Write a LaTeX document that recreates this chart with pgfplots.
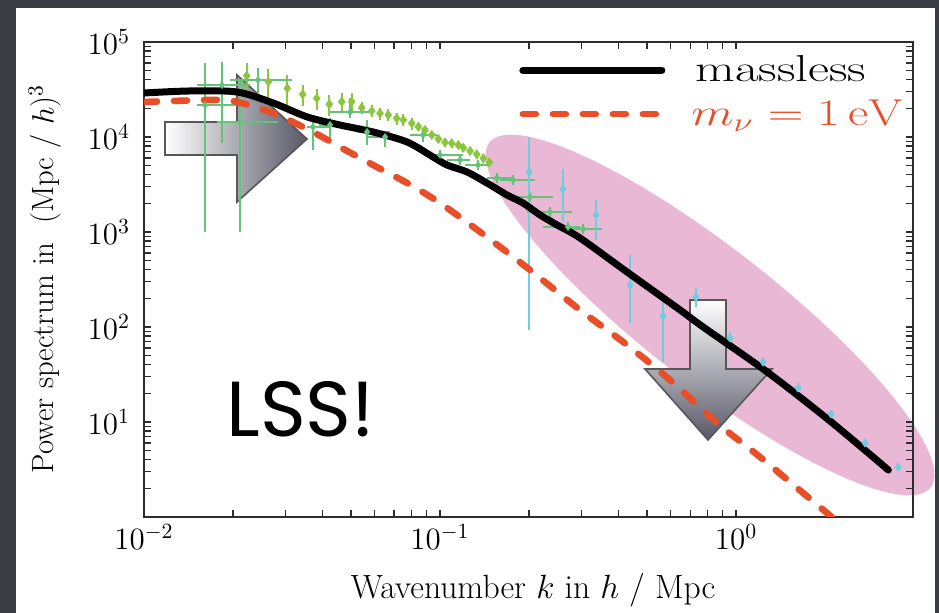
\RequirePackage{fix-cm}
\documentclass[border=0pt]{standalone}
\usepackage{fontspec}
\usepackage{graphicx}
\usepackage{pgfplots}
\usepackage{pgfplotstable}
\pgfplotsset{compat=1.18}
\newfontfamily\poppins{Poppins}

\definecolor{bg}{RGB}{58,60,68}
\definecolor{massred}{RGB}{232,78,40}
\definecolor{limeg}{RGB}{140,198,63}
\definecolor{mgreen}{RGB}{100,195,120}
\definecolor{cyanpt}{RGB}{110,205,222}
\definecolor{pinkell}{RGB}{233,184,213}
\definecolor{arrowdark}{RGB}{88,88,104}
\definecolor{axisgray}{RGB}{45,45,45}

\pgfplotstableread{
k P
0.01 29040
0.0143 30500
0.0206 29770
0.0273 22800
0.0356 16250
0.0459 13370
0.0594 11290
0.0774 8860
0.0947 6160
0.1056 5070
0.1234 4280
0.144 3280
0.1684 2450
0.1906 2020
0.2177 1510
0.2485 1185
0.297 865
0.4285 379
0.647 151
0.774 100
1.274 33.6
2.08 10.2
3.27 3.12
}\massless

\pgfplotstableread{
k P
0.01 23350
0.0163 24500
0.02 23900
0.0273 17900
0.0372 11290
0.0459 7850
0.0594 5070
0.0774 3280
0.1 2020
0.144 886
0.2014 398
0.297 151
0.4285 64.7
0.598 27.7
0.862 9.76
1.205 4.28
2.12 0.98
}\massive

\pgfplotstableread{
k P e
0.02223 44190 16440
0.02630 38210 14210
0.03048 32550 12110
0.03436 28150 6900
0.03833 25550 6260
0.04227 22090 5410
0.04655 23530 5760
0.05030 23530 5760
0.05438 20340 2970
0.05878 18780 2740
0.06270 17770 2590
0.06686 17050 2490
0.07139 15730 2300
0.07516 15100 2200
0.08023 13940 2040
0.08447 12840 1250
0.08899 11850 1155
0.09375 10500 1024
0.09869 9526 929
0.10397 8795 858
0.10952 8585 837
0.11529 8240 803
0.11986 7717 752
0.12628 7122 694
0.13305 6575 641
0.14005 5968 582
0.14675 5416 528
}\lime

\pgfplotstableread{
k klo khi P Plo Phi
0.01607 0.01510 0.02062 21720 1000 60090
0.01834 0.01510 0.02281 35270 8648 61570
0.02110 0.01764 0.02836 14380 1000 39810
0.02427 0.01952 0.03162 39810 27680 53240
0.03724 0.03554 0.04250 12750 7300 14380
0.04250 0.03903 0.04595 13380 8860 15850
0.04965 0.04250 0.05801 18340 15850 25730
0.05667 0.05244 0.06779 11290 8240 15100
0.06521 0.05667 0.07325 10000 7848 11290
0.08763 0.07918 0.09769 10500 8860 12430
0.10000 0.09252 0.11959 6466 5727 7300
0.11684 0.10560 0.12628 5727 5073 6466
0.13440 0.12147 0.14751 5073 4494 5727
0.15580 0.14410 0.17646 3702 3280 4179
0.17646 0.15948 0.20941 3527 3124 3981
0.20140 0.18203 0.24088 2336 2069 2637
0.23530 0.19673 0.27922 1624 1438 1834
0.27063 0.22284 0.29717 1129 1000 1274
0.30417 0.26030 0.35263 1075 952 1214
}\mgr

\pgfplotstableread{
k P Plo Phi
0.2000 4283 93 10000
0.2603 2836 1274 4603
0.3365 1510 824 2172
0.4384 276.7 110.2 572.5
0.5667 130.6 42.8 192.3
0.7325 206.9 162.4 257.5
0.9544 76.6 60.1 88.6
1.234 42.8 37.0 48.3
1.620 22.8 20.2 25.7
2.094 12.14 11.02 13.37
2.728 6.01 5.59 6.46
3.526 3.36 3.12 3.53
}\cyanpts

\begin{document}
\begin{tikzpicture}
\useasboundingbox (0,0) rectangle (469.5pt,306.5pt);
\fill[bg] (0,0) rectangle (469.5pt,306.5pt);
\fill[white] (8pt,0) rectangle (467.5pt,302.5pt);
% pink ellipse
\fill[pinkell, shift={(355pt,149pt)}, rotate=-38] (0,0) ellipse [x radius=140pt, y radius=33.5pt];
% arrows
\draw[draw=axisgray!80, line width=0.8pt, left color=white, right color=arrowdark]
  (82.5pt,245.5pt) -- (118.5pt,245.5pt) -- (118.5pt,269pt) -- (153.5pt,237pt)
  -- (118.5pt,205.5pt) -- (118.5pt,229pt) -- (82.5pt,229pt) -- cycle;
\draw[draw=axisgray!80, line width=0.8pt, top color=white, bottom color=arrowdark]
  (345pt,156.5pt) -- (363pt,156.5pt) -- (363pt,122pt) -- (386pt,122pt)
  -- (354pt,86.5pt) -- (322.5pt,122pt) -- (345pt,122pt) -- cycle;

\begin{axis}[
  at={(72pt,48pt)}, anchor=south west,
  scale only axis, width=384.5pt, height=237.5pt,
  xmode=log, ymode=log,
  xmin=0.01, xmax=3.96, ymin=1, ymax=1e5,
  xtick={0.01,0.1,1},
  ytick={1,10,100,1000,10000,100000},
  yticklabels={,$10^{1}$,$10^{2}$,$10^{3}$,$10^{4}$,$10^{5}$},
  axis line style={line width=1pt, color=axisgray},
  tick style={line width=0.7pt, color=axisgray},
  major tick length=3.5pt, minor tick length=3.5pt,
  ticklabel style={font=\fontsize{15.5}{16}\selectfont},
  yticklabel style={xshift=-3.5pt},
  xlabel={Wavenumber $k$ in $h$ / Mpc},
  ylabel={Power spectrum in\ \ (Mpc / $h$)$^3$},
  xlabel style={at={(axis description cs:0.506,-0.1537)}, anchor=center, font=\fontsize{16.8}{18}\selectfont},
  ylabel style={at={(axis description cs:-0.1287,0.501)}, anchor=center, font=\fontsize{15.4}{17}\selectfont},
  legend style={draw=none, fill=none, at={(axis description cs:0.4798,0.9885)}, anchor=north west,
    font=\fontsize{18.75}{20}\selectfont, row sep=3.5pt},
  legend cell align=left,
  legend image code/.code={\draw[#1] (0pt,0pt) -- (69.5pt,0pt);},
  error bars/error mark=none,
]
% lime data
\addplot[forget plot, only marks, mark=diamond*, mark size=2.2pt, color=limeg,
  error bars/.cd, y dir=both, y explicit, error bar style={line width=1pt, color=limeg}]
  table[x=k, y=P, y error=e] {\lime};
% medium green crosses
\addplot[forget plot, only marks, mark=diamond*, mark size=1.7pt, color=mgreen,
  error bars/.cd, x dir=both, x explicit, y dir=both, y explicit,
  error bar style={line width=0.9pt, color=mgreen}]
  table[x=k, y=P,
    x error plus expr=\thisrow{khi}-\thisrow{k}, x error minus expr=\thisrow{k}-\thisrow{klo},
    y error plus expr=\thisrow{Phi}-\thisrow{P}, y error minus expr=\thisrow{P}-\thisrow{Plo}] {\mgr};
% cyan points
\addplot[forget plot, only marks, mark=diamond*, mark size=2pt, color=cyanpt,
  error bars/.cd, y dir=both, y explicit,
  error bar style={line width=0.8pt, color=cyanpt}]
  table[x=k, y=P,
    y error plus expr=\thisrow{Phi}-\thisrow{P}, y error minus expr=\thisrow{P}-\thisrow{Plo}] {\cyanpts};
% theory curves
\addplot[black, line width=3.5pt, smooth, line cap=round] table[x=k,y=P] {\massless};
\addlegendentry{\hspace*{13pt}\scalebox{1.37}[1]{massless}}
\addplot[massred, line width=3.3pt, smooth, line cap=round, dash pattern=on 6.5pt off 8.5pt] table[x=k,y=P] {\massive};
\addlegendentry{\hspace*{11pt}\scalebox{1.32}[1]{\textcolor{massred}{$m_\nu = 1\,\mathrm{eV}$}}}
\end{axis}

\node[anchor=base west, inner sep=0pt] at (113pt,88pt) {\poppins\fontsize{39}{40}\selectfont LSS!};
\end{tikzpicture}
\end{document}
